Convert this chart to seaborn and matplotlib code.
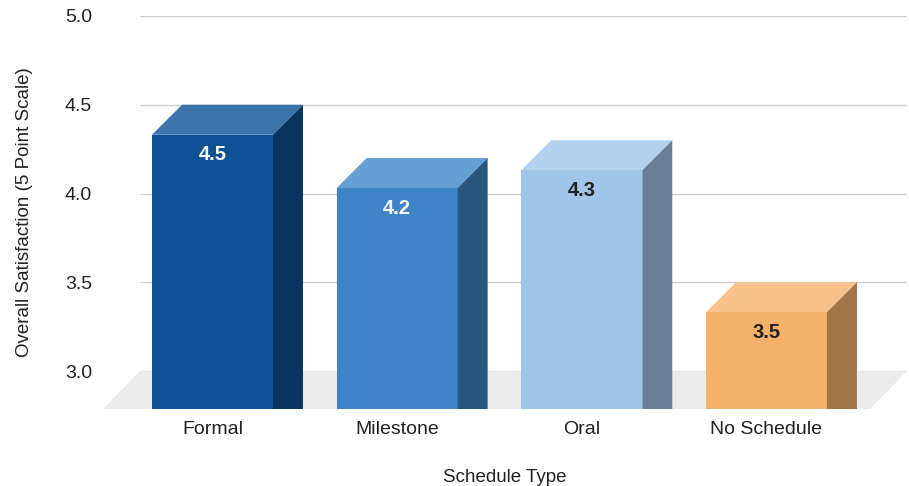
import numpy as np
import matplotlib
matplotlib.use('Agg')
import matplotlib.pyplot as plt
import matplotlib.transforms as mtransforms
from matplotlib.patches import Polygon
import seaborn as sns

# data
schedule = ['Formal', 'Milestone', 'Oral', 'No Schedule']
satisfaction = [4.5, 4.2, 4.3, 3.5]
yticks = [3.0, 3.5, 4.0, 4.5, 5.0]

# colours: front face, top face, side face, value label
front_colors = ['#0e5194', '#3e84c6', '#a0c5e8', '#f5b06a']
top_colors = ['#3c75aa', '#669fd4', '#b2d2ef', '#f7c28b']
side_colors = ['#09365f', '#29577f', '#677f97', '#a07446']
label_colors = ['white', 'white', '#222222', '#222222']

sns.set_theme(style='white')
plt.rcParams['font.family'] = ['Liberation Sans', 'DejaVu Sans']

W, H = 909, 486
fig = plt.figure(figsize=(W / 100, H / 100), dpi=100)
# plot box in pixels: left 103, right 907, top 16, bottom 409
ax = fig.add_axes([103 / W, 1 - 409 / H, (907 - 103) / W, (409 - 16) / H])

xlim = (-0.593, 3.761)
ylim = (2.786, 5.0)
px_x = (907 - 103) / (xlim[1] - xlim[0])
px_y = (409 - 16) / (ylim[1] - ylim[0])
ddx, ddy = 30 / px_x, 30 / px_y          # depth of the bars
fdx, fdy = 37 / px_x, yticks[0] - ylim[0]  # depth of the floor

# front faces
sns.barplot(x=schedule, y=satisfaction, hue=schedule, palette=front_colors,
            width=0.655, saturation=1, legend=False, ax=ax, zorder=3)
bars = list(ax.patches)
shift = mtransforms.Affine2D().translate(0, -ddy) + ax.transData
for p in bars:
    p.set_transform(shift)
    p.set_linewidth(0)

ax.set_xlim(*xlim)
ax.set_ylim(*ylim)

# back wall grid + floor
ax.hlines(yticks, xlim[0] + fdx, xlim[1], color='#cccccc', lw=1, zorder=0)
ax.add_patch(Polygon([(xlim[0] + fdx, yticks[0]), (xlim[1], yticks[0]),
                      (xlim[1] - fdx, ylim[0]), (xlim[0], ylim[0])],
                     closed=True, facecolor='#ebebeb', edgecolor='none', zorder=1))

# top and side faces, value labels
for i, p in enumerate(bars):
    x0, w, v = p.get_x(), p.get_width(), satisfaction[i]
    ax.add_patch(Polygon([(x0, v - ddy), (x0 + w, v - ddy), (x0 + w + ddx, v), (x0 + ddx, v)],
                         closed=True, facecolor=top_colors[i], edgecolor='none', zorder=3))
    ax.add_patch(Polygon([(x0 + w, v - ddy), (x0 + w + ddx, v), (x0 + w + ddx, ylim[0]), (x0 + w, ylim[0])],
                         closed=True, facecolor=side_colors[i], edgecolor='none', zorder=3))
    ax.text(x0 + w / 2, v - ddy - 20 / px_y, f'{v:.1f}', ha='center', va='center',
            fontsize=14.5, fontweight='bold', color=label_colors[i], zorder=4)

ax.set_yticks(yticks)
ax.set_yticklabels([f'{t:.1f}' for t in yticks])
ax.tick_params(axis='both', length=0, labelsize=14, colors='#222222')
ax.tick_params(axis='y', pad=8)
ax.tick_params(axis='x', pad=8.5)
for s in ax.spines.values():
    s.set_visible(False)
ax.grid(False)

ax.set_xlabel('Schedule Type', fontsize=13.5, color='#222222')
ax.set_ylabel('Overall Satisfaction (5 Point Scale)', fontsize=13.5, color='#222222')
ax.xaxis.set_label_coords(0.5, -0.152)
ax.yaxis.set_label_coords(-0.087, 0.5)

fig.savefig('out.png', dpi=100)
